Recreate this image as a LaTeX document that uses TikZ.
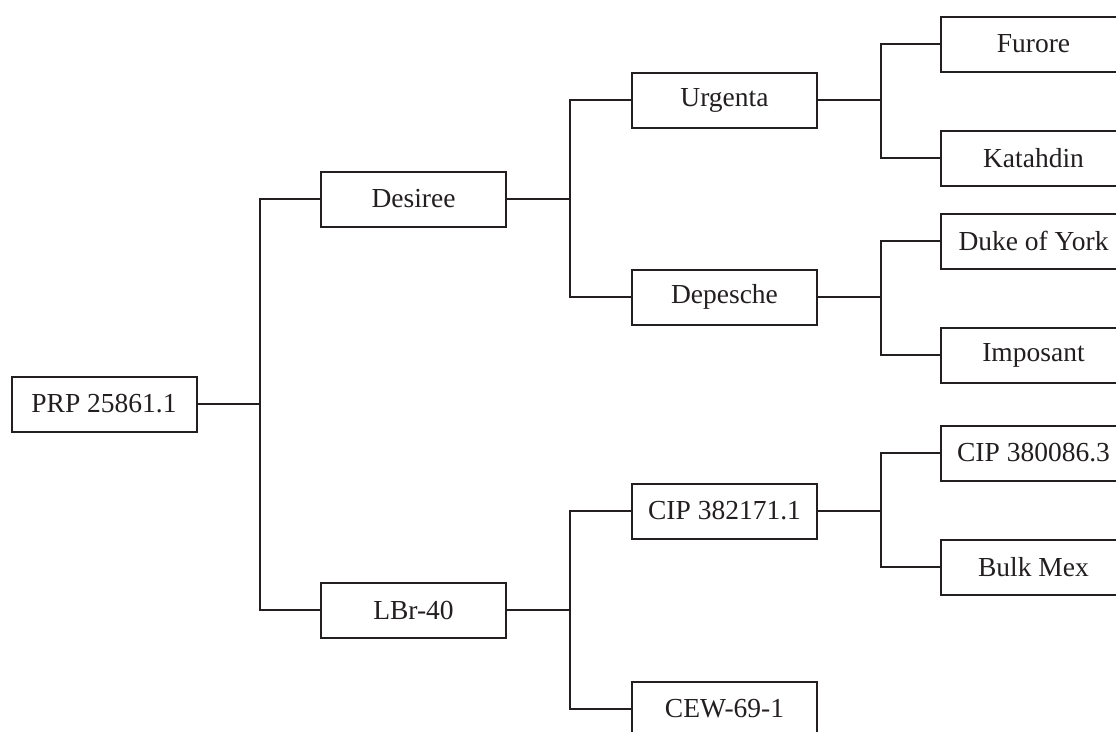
\documentclass[tikz,border=0pt]{standalone}
\usepackage{fontspec}
\setmainfont{Liberation Serif}
\definecolor{ink}{HTML}{231F20}
\begin{document}
\begin{tikzpicture}[x=1pt,y=-1pt,
  box/.style={draw=ink,line width=2pt,minimum width=185pt,minimum height=55pt,inner sep=0pt,
    font=\fontsize{27.5}{33}\selectfont,text=ink},
  conn/.style={draw=ink,line width=2pt}]
\clip (0,0) rectangle (1116,731);
\fill[white] (0,0) rectangle (1116,731);
\node[box] (prp) at (104,404) {PRP 25861.1};
\node[box] (des) at (413.5,199) {Desiree};
\node[box] (lbr) at (413.5,610) {LBr-40};
\node[box] (urg) at (724.5,100) {Urgenta};
\node[box] (dep) at (724.5,297) {Depesche};
\node[box] (cipa) at (724.5,511) {CIP 382171.1};
\node[box] (cew) at (724.5,709) {CEW-69-1};
\node[box] (fur) at (1033.5,44) {Furore};
\node[box] (kat) at (1033.5,158) {Katahdin};
\node[box] (duk) at (1033.5,241) {Duke of York};
\node[box] (imp) at (1033.5,355) {Imposant};
\node[box] (cipb) at (1033.5,453) {CIP 380086.3};
\node[box] (bulk) at (1033.5,567) {Bulk Mex};
\foreach \p/\a/\b in {prp/des/lbr, des/urg/dep, lbr/cipa/cew, urg/fur/kat, dep/duk/imp, cipa/cipb/bulk}{
  \draw[conn] (\p.east) -- ++(62.5,0) coordinate (j);
  \draw[conn] (j) |- (\a.west);
  \draw[conn] (j) |- (\b.west);
}
\end{tikzpicture}
\end{document}
